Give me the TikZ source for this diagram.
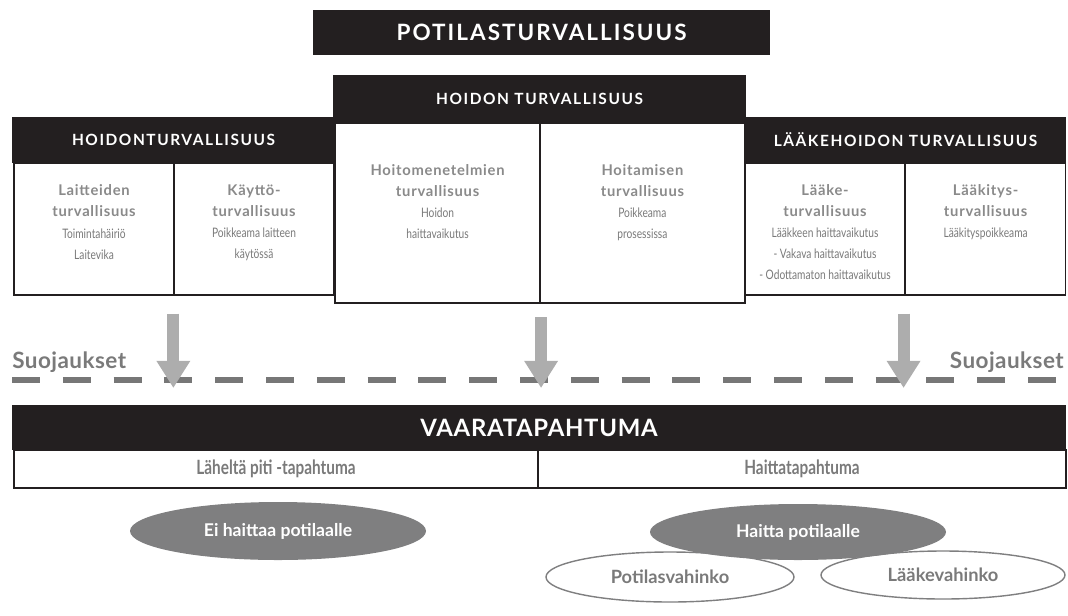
\documentclass[tikz,border=0pt]{standalone}
\usepackage{fontspec}
\setmainfont{Lato}
\newfontfamily\condfont[FakeStretch=0.78]{Lato}
\usepackage{xcolor}
\usetikzlibrary{arrows.meta,positioning,shapes.geometric}
\definecolor{inkblack}{HTML}{231F20}
\definecolor{textgrey}{HTML}{8A8A8A}
\definecolor{notegrey}{HTML}{7A7A7A}
\definecolor{arrowgrey}{HTML}{ADADAD}
\definecolor{dashgrey}{HTML}{777777}
\definecolor{ovalgrey}{HTML}{7F7F80}
\newcommand{\cellnote}{\condfont\fontsize{9.3}{13}\selectfont\mdseries\color{notegrey}}

\begin{document}
\begin{tikzpicture}[
  headbox/.style={fill=inkblack, text=white, font=\fontsize{11}{13}\selectfont\bfseries\addfontfeature{LetterSpace=10}, minimum height=1.15cm, inner sep=0pt},
  cell/.style={draw=inkblack, line width=0.8pt, fill=white, minimum width=4cm, minimum height=3.3cm, inner sep=0pt},
  bigcell/.style={draw=inkblack, line width=1.4pt, fill=white, minimum width=5.125cm, minimum height=4.5cm, inner sep=0pt},
  celltext/.style={align=center, inner sep=1pt, text=textgrey, font=\fontsize{10.5}{15}\selectfont\bfseries\addfontfeature{LetterSpace=5}},
  subcell/.style={draw=inkblack, line width=0.8pt, fill=white, minimum height=0.95cm, inner sep=0pt, font=\condfont\fontsize{14}{16}\selectfont\bfseries, text=notegrey},
  downarrow/.style={-{Triangle[length=0.68cm, width=0.8cm]}, line width=0.3cm, draw=arrowgrey},
  greyoval/.style={ellipse, fill=ovalgrey, text=white, inner sep=0pt, font=\fontsize{12.5}{14}\selectfont\bfseries},
  whiteoval/.style={ellipse, draw=ovalgrey, line width=1pt, fill=white, text=notegrey, inner sep=0pt, font=\fontsize{13}{15}\selectfont\bfseries},
  guardtext/.style={text=notegrey, font=\fontsize{16}{18}\selectfont\bfseries\addfontfeature{LetterSpace=2}, inner sep=0pt}
]
\useasboundingbox (0,0) rectangle (26.7,-15.375);

\node[headbox, minimum width=11.425cm, minimum height=1.125cm, font=\fontsize{16}{18}\selectfont\bfseries\addfontfeature{LetterSpace=9}] (potilas) at (13.54,-0.8125) {POTILASTURVALLISUUS};

% left group
\node[headbox, minimum width=8.075cm] (hoidonL) at (4.3375,-3.5) {HOIDONTURVALLISUUS};
\node[cell] (laite) at (2.35,-5.725) {};
\node[cell] (kaytto) at (6.35,-5.725) {};
\node[celltext, below=0.52cm of laite.north] (laitetxt) {Laitteiden\\turvallisuus\\\cellnote Toimintahäiriö\\\cellnote Laitevika};
\node[celltext, below=0.52cm of kaytto.north] (kayttotxt) {Käyttö-\\turvallisuus\\\cellnote Poikkeama laitteen\\\cellnote käytössä};

% right group
\node[headbox, minimum width=8.025cm, font=\fontsize{11}{13}\selectfont\bfseries\addfontfeature{LetterSpace=10}] (laakehoito) at (22.6375,-3.5) {LÄÄKEHOIDON TURVALLISUUS};
\node[cell] (laake) at (20.625,-5.725) {};
\node[cell] (laakitys) at (24.64,-5.725) {};
\node[celltext, below=0.5cm of laake.north] (laaketxt) {Lääke-\\turvallisuus\\\cellnote Lääkkeen haittavaikutus\\\cellnote - Vakava haittavaikutus\\\cellnote - Odottamaton haittavaikutus};
\node[celltext, below=0.5cm of laakitys.north] (laakitystxt) {Lääkitys-\\turvallisuus\\\cellnote Lääkityspoikkeama};

% middle group
\node[headbox, minimum width=10.325cm, minimum height=1.2cm] (hoidonM) at (13.49,-2.475) {HOIDON TURVALLISUUS};
\node[bigcell] (menetelma) at (10.94,-5.325) {};
\node[bigcell] (hoitaminen) at (16.06,-5.325) {};
\node[celltext, below=1.02cm of menetelma.north] (menetelmatxt) {Hoitomenetelmien\\turvallisuus\\\cellnote Hoidon\\\cellnote haittavaikutus};
\node[celltext, below=1.02cm of hoitaminen.north] (hoitaminentxt) {Hoitamisen\\turvallisuus\\\cellnote Poikkeama\\\cellnote prosessissa};

% guards
\coordinate (guardL) at (0.3,-9.5);
\coordinate (guardR) at (26.65,-9.5);
\draw[dashgrey, line width=0.15cm, dash pattern=on 0.7cm off 0.57cm] (guardL) -- (guardR);
\node[guardtext, anchor=west] (suojL) at (0.3,-9.05) {Suojaukset};
\node[guardtext, anchor=east] (suojR) at (26.6,-9.05) {Suojaukset};

\coordinate (hitL) at ([xshift=-0.03cm]laite.south east |- 0,-9.7);
\coordinate (hitM) at (menetelma.south east |- 0,-9.7);
\coordinate (hitR) at ([xshift=-0.05cm]laake.south east |- 0,-9.7);
\draw[downarrow, shorten <=0.45cm] ([xshift=-0.03cm]laite.south east) -- (hitL);
\draw[downarrow, shorten <=0.33cm] (menetelma.south east) -- (hitM);
\draw[downarrow, shorten <=0.45cm] ([xshift=-0.05cm]laake.south east) -- (hitR);

% incident
\node[headbox, minimum width=26.35cm, minimum height=1.125cm, font=\fontsize{17}{19}\selectfont\bfseries\addfontfeature{LetterSpace=3}] (vaara) at (13.475,-10.6875) {VAARATAPAHTUMA};
\node[subcell, minimum width=13.1cm] (lahelta) at (6.9,-11.725) {Läheltä piti -tapahtuma};
\node[subcell, minimum width=13.2cm] (haitta) at (20.05,-11.725) {Haittatapahtuma};

\node[whiteoval, minimum width=6.2cm, minimum height=1.25cm] (potvahinko) at (16.75,-14.425) {Potilasvahinko};
\node[whiteoval, minimum width=6.1cm, minimum height=1.2cm] (laakevahinko) at (23.575,-14.375) {Lääkevahinko};
\node[greyoval, minimum width=7.4cm, minimum height=1.45cm] (eihaittaa) at (6.95,-13.275) {Ei haittaa potilaalle};
\node[greyoval, minimum width=7.4cm, minimum height=1.4cm] (haittapot) at (19.95,-13.3) {Haitta potilaalle};
\end{tikzpicture}
\end{document}
